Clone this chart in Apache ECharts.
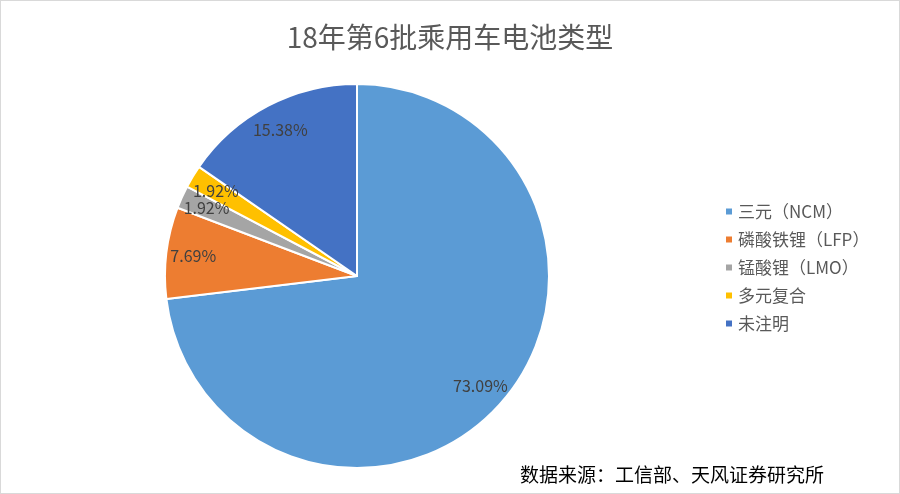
<!DOCTYPE html>
<html>
<head>
<meta charset="utf-8">
<script src="https://cdn.jsdelivr.net/npm/echarts@6/dist/echarts.min.js"></script>
<style>
html,body{margin:0;padding:0;background:#fff;}
#chart{width:898px;height:492px;border:1px solid #d9d9d9;}
</style>
</head>
<body>
<div id="chart"></div>
<script>
let names=["三元（NCM）","磷酸铁锂（LFP）","锰酸锂（LMO）","多元复合","未注明"];
let values=[73.09,7.69,1.92,1.92,15.38];
let colors=["#5B9BD5","#ED7D31","#A5A5A5","#FFC000","#4472C4"];

let font="'Noto Sans CJK SC', 'Noto Sans', sans-serif";
let pieData=[];
for(let i=0;i<names.length;i++){
    pieData.push({name:names[i],value:values[i],itemStyle:{color:colors[i]}});
}

var myChart=echarts.init(document.getElementById("chart"));
var option={
    animation:false,
    title:{
        text:"18年第6批乘用车电池类型",
        left:"center",
        top:17,
        textStyle:{fontFamily:font,fontSize:28,fontWeight:"normal",color:"#595959"}
    },
    legend:{
        orient:"vertical",
        left:718,
        top:197,
        itemWidth:8,
        itemHeight:8,
        itemGap:11,
        icon:"rect",
        data:names,
        textStyle:{fontFamily:font,fontSize:17,color:"#595959"}
    },
    graphic:[{
        type:"text",
        left:519,
        top:464,
        style:{text:"数据来源：工信部、天风证券研究所",font:"19px "+font,fill:"#000"}
    }],
    series:[{
        type:"pie",
        center:[356,275],
        radius:[0,192],
        startAngle:90,
        clockwise:true,
        label:{show:false},
        labelLine:{show:false},
        itemStyle:{borderColor:"#fff",borderWidth:2},
        data:pieData
    },{
        // 只用来放标签
        type:"pie",
        center:[356,275],
        radius:[132,192],
        startAngle:90,
        clockwise:true,
        silent:true,
        legendHoverLink:false,
        itemStyle:{color:"rgba(0,0,0,0)"},
        label:{
            show:true,
            position:"inside",
            formatter:function(p){return p.value.toFixed(2)+"%";},
            fontFamily:font,
            fontSize:16,
            color:"#404040"
        },
        labelLine:{show:false},
        data:names.map(function(n,i){return {name:n+" ",value:values[i]};})
    }]
};
myChart.setOption(option);
</script>
</body>
</html>
